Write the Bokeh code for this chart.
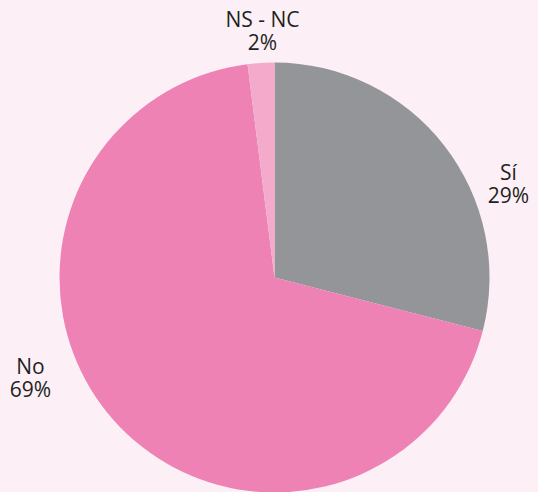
import math
from bokeh.plotting import figure
from bokeh.models import Range1d, ColumnDataSource
from bokeh.core.properties import value
from bokeh.embed import file_html
from bokeh.resources import INLINE

# ---- data ----
categories = ["Sí", "No", "NS - NC"]
percents = [29, 69, 2]
colors = ["#939598", "#EE82B4", "#F4AACB"]

# ---- layout ----
W, H = 538, 492
BG = "#FCF0F6"
cx, cy, r = 274, 215, 215
# label anchor (x, baseline of name line) per category, in figure pixels
label_pos = [(508, 321), (30, 127), (262, 474)]
line_gap = 23

total = sum(percents)
starts, ends = [], []
acc = 0.0
for v in percents:
    a0 = math.pi / 2 - 2 * math.pi * acc / total
    acc += v
    a1 = math.pi / 2 - 2 * math.pi * acc / total
    starts.append(a0)
    ends.append(a1)

src = ColumnDataSource(dict(x=[cx] * len(percents), y=[cy] * len(percents),
                            start=starts, end=ends, color=colors))

p = figure(width=W, height=H, output_backend="svg", toolbar_location=None,
           x_range=Range1d(0, W), y_range=Range1d(0, H), min_border=0)
p.axis.visible = False
p.grid.visible = False
p.outline_line_color = None
p.background_fill_color = BG
p.border_fill_color = BG

p.wedge(x="x", y="y", radius=r, radius_units="data", start_angle="start",
        end_angle="end", direction="clock", fill_color="color", line_color=None,
        source=src)

tx, ty, tt = [], [], []
for cat, v, (lx, ly) in zip(categories, percents, label_pos):
    tx.append(lx); ty.append(ly); tt.append(cat)
    tx.append(lx); ty.append(ly - line_gap); tt.append(f"{v}%")
p.text(x=tx, y=ty, text=tt, text_font=value("Open Sans"), text_font_size="21px",
       text_color="#231F20", text_align="center", text_baseline="alphabetic")

html = file_html(p, INLINE)
style = f"<style>html, body {{ background: {BG}; margin: 0; padding: 0; overflow: hidden; }}</style>"
if "</head>" in html:
    html = html.replace("</head>", style + "</head>", 1)
open("out.html", "w").write(html)
